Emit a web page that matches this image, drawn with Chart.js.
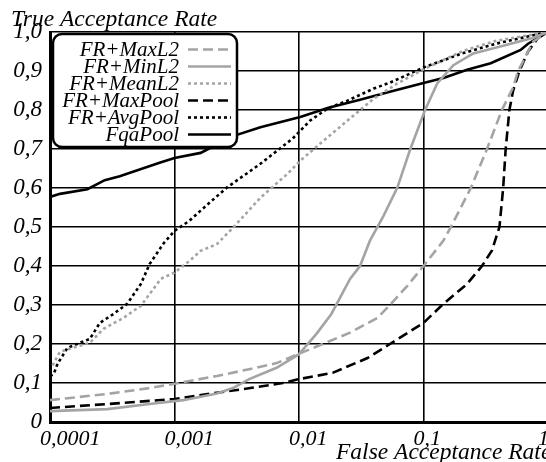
<!DOCTYPE html>
<html><head><meta charset="utf-8">
<script src="https://cdn.jsdelivr.net/npm/chart.js@4"></script>
<style>
html,body{margin:0;padding:0;background:#fff;overflow:hidden;width:546px;height:462px}
#wrap{position:absolute;left:0;top:0;width:568px;height:462px}
</style>
</head><body><div id="wrap"><canvas id="c" width="568" height="462"></canvas></div>
<script>
// ---- data (FAR stored as log10 values, TAR as fraction) ----
const seriesNames = ['FR+MaxL2','FR+MinL2','FR+MeanL2','FR+MaxPool','FR+AvgPool','FqaPool'];
const xTickValues = [0.0001, 0.001, 0.01, 0.1, 1];
const xTickLabels = ['0,0001', '0,001', '0,01', '0,1', '1'];
const yTickLabels = ['0', '0,1', '0,2', '0,3', '0,4', '0,5', '0,6', '0,7', '0,8', '0,9', '1,0'];
const xTitle = 'False Acceptance Rate';
const yTitle = 'True Acceptance Rate';

const maxL2LogFar = [-4, -3.54, -3.2, -3, -2.66, -2.39, -2.18, -2, -1.81, -1.59, -1.37, -1.27, -1.13, -1, -0.84, -0.78, -0.62, -0.49, -0.37, -0.28, -0.24, -0.12, 0];
const maxL2Tar    = [0.056, 0.072, 0.087, 0.098, 0.118, 0.136, 0.151, 0.175, 0.2, 0.229, 0.267, 0.3, 0.349, 0.4, 0.465, 0.5, 0.6, 0.7, 0.8, 0.858, 0.9, 0.975, 1.0];

const minL2LogFar = [-4, -3.54, -3.2, -2.93, -2.66, -2.53, -2.4, -2.18, -2, -1.86, -1.74, -1.67, -1.59, -1.51, -1.43, -1.32, -1.21, -1.11, -0.99, -0.89, -0.76, -0.6, -0.36, -0.14, 0];
const minL2Tar    = [0.028, 0.033, 0.046, 0.056, 0.073, 0.087, 0.11, 0.139, 0.174, 0.226, 0.277, 0.319, 0.367, 0.4, 0.465, 0.529, 0.601, 0.696, 0.798, 0.868, 0.915, 0.945, 0.965, 0.983, 1.0];

const meanL2LogFar = [-3.98, -3.92, -3.82, -3.68, -3.57, -3.41, -3.27, -3.17, -3.11, -3, -2.88, -2.79, -2.66, -2.53, -2.31, -2.09, -1.99, -1.83, -1.61, -1.4, -1.21, -0.99, -0.68, -0.41, 0];
const meanL2Tar    = [0.145, 0.18, 0.19, 0.203, 0.239, 0.267, 0.298, 0.341, 0.367, 0.383, 0.413, 0.439, 0.456, 0.498, 0.575, 0.637, 0.67, 0.714, 0.773, 0.829, 0.868, 0.906, 0.952, 0.978, 1.0];

const maxPoolLogFar = [-4, -3.54, -3, -2.66, -2.39, -2.13, -2, -1.73, -1.45, -1.27, -1, -0.85, -0.65, -0.53, -0.45, -0.39, -0.36, -0.34, -0.31, -0.28, -0.23, -0.16, -0.08, 0];
const maxPoolTar    = [0.036, 0.046, 0.059, 0.075, 0.087, 0.1, 0.11, 0.126, 0.164, 0.2, 0.254, 0.3, 0.354, 0.4, 0.44, 0.5, 0.6, 0.7, 0.8, 0.85, 0.9, 0.95, 0.985, 1.0];

const avgPoolLogFar = [-4, -3.97, -3.94, -3.86, -3.76, -3.68, -3.6, -3.49, -3.38, -3.27, -3.2, -3.09, -3, -2.88, -2.79, -2.58, -2.31, -2.05, -1.91, -1.77, -1.61, -1.4, -1.27, -1, -0.69, -0.42, 0];
const avgPoolTar    = [0.118, 0.123, 0.149, 0.19, 0.203, 0.213, 0.254, 0.277, 0.303, 0.354, 0.405, 0.457, 0.49, 0.516, 0.542, 0.601, 0.662, 0.727, 0.773, 0.804, 0.824, 0.855, 0.87, 0.909, 0.945, 0.97, 1.0];

const fqaPoolLogFar = [-4, -3.92, -3.7, -3.56, -3.44, -3.12, -3, -2.79, -2.53, -2.31, -1.99, -1.77, -1.51, -1.27, -1, -0.84, -0.65, -0.46, -0.22, -0.16, 0];
const fqaPoolTar    = [0.577, 0.585, 0.597, 0.62, 0.63, 0.665, 0.677, 0.69, 0.733, 0.756, 0.782, 0.805, 0.826, 0.847, 0.869, 0.882, 0.903, 0.92, 0.954, 0.97, 1.0];

// ---- styles ----
const GRAY = '#a4a4a4', BLACK = '#000000';
const FONT = 'Liberation Serif';

function pts(lf, tar) { return lf.map((v, i) => ({ x: Math.pow(10, v), y: tar[i] })); }
function ds(label, lf, tar, color, dash) {
  return { label, data: pts(lf, tar), borderColor: color, borderWidth: 2.6, borderDash: dash,
           borderCapStyle: 'butt', pointRadius: 0, tension: 0, fill: false };
}

const datasets = [
  ds(seriesNames[0], maxL2LogFar, maxL2Tar, GRAY, [10, 5]),
  ds(seriesNames[1], minL2LogFar, minL2Tar, GRAY, []),
  ds(seriesNames[2], meanL2LogFar, meanL2Tar, GRAY, [3, 3]),
  ds(seriesNames[3], maxPoolLogFar, maxPoolTar, BLACK, [10, 5]),
  ds(seriesNames[4], avgPoolLogFar, avgPoolTar, BLACK, [3, 3]),
  ds(seriesNames[5], fqaPoolLogFar, fqaPoolTar, BLACK, []),
];

const overlay = {
  id: 'overlay',
  afterDatasetsDraw(chart) {
    const ctx = chart.ctx;
    ctx.save();
    // legend box
    const bx = 53, by = 34, bw = 184, bh = 113, r = 9;
    ctx.beginPath();
    ctx.roundRect(bx, by, bw, bh, r);
    ctx.fillStyle = '#fff';
    ctx.fill();
    ctx.lineWidth = 2.5;
    ctx.strokeStyle = '#000';
    ctx.setLineDash([]);
    ctx.stroke();
    ctx.font = 'italic 21px "' + FONT + '"';
    ctx.textAlign = 'right';
    ctx.textBaseline = 'alphabetic';
    chart.data.datasets.forEach((d, i) => {
      const y = 49.5 + i * 17;
      ctx.fillStyle = '#000';
      ctx.fillText(d.label, 179, y + 6);
      ctx.beginPath();
      ctx.setLineDash(d.borderDash || []);
      ctx.lineWidth = d.borderWidth;
      ctx.strokeStyle = d.borderColor;
      ctx.moveTo(188, y);
      ctx.lineTo(231, y);
      ctx.stroke();
    });
    ctx.restore();
  },
  afterDraw(chart) {
    const ctx = chart.ctx;
    ctx.save();
    ctx.fillStyle = '#000';
    ctx.font = 'italic 23.5px "' + FONT + '"';
    ctx.textAlign = 'left';
    ctx.textBaseline = 'alphabetic';
    ctx.fillText(yTitle, 11, 26);
    ctx.fillText(xTitle, 336, 459);
    ctx.restore();
  }
};

new Chart(document.getElementById('c'), {
  type: 'line',
  data: { datasets },
  options: {
    responsive: false,
    animation: false,
    layout: { padding: { left: 0, top: 32, right: 20, bottom: 0 } },
    plugins: { legend: { display: false }, tooltip: { enabled: false } },
    scales: {
      x: {
        type: 'logarithmic', min: 0.0001, max: 1,
        afterBuildTicks(s) { s.ticks = xTickValues.map(v => ({ value: v })); },
        afterFit(s) { s.height = 40; },
        ticks: {
          autoSkip: false, maxRotation: 0, padding: 4, color: '#000',
          align: 'start', labelOffset: -10,
          font: { family: FONT, style: 'italic', size: 22 },
          callback(v, i) { return xTickLabels[i]; }
        },
        grid: { color: '#000', lineWidth: 1.6, drawTicks: false },
        border: { color: '#000', width: 3 }
      },
      y: {
        type: 'linear', min: 0, max: 1,
        ticks: {
          stepSize: 0.1, padding: 8, color: '#000',
          font: { family: FONT, style: 'italic', size: 23 },
          callback(v, i) { return yTickLabels[i]; }
        },
        afterFit(s) { s.width = 50; },
        grid: { color: '#000', lineWidth: 1.6, drawTicks: false },
        border: { color: '#000', width: 3 }
      }
    }
  },
  plugins: [overlay]
});
</script>
</body></html>
